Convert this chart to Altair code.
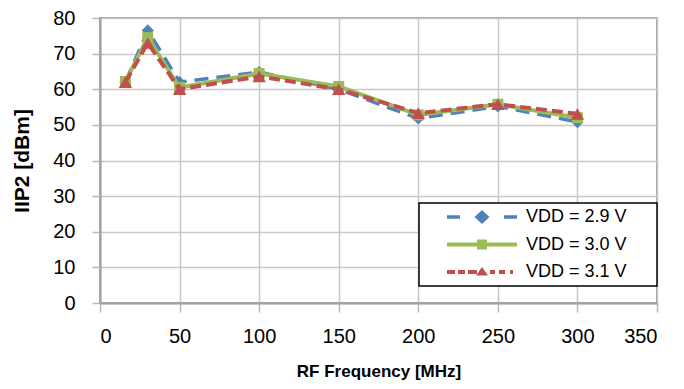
import altair as alt
import pandas as pd

# ---- data ----
freq = [16, 30, 50, 100, 150, 200, 250, 300]
vdd29 = [62.0, 76.5, 62.0, 64.8, 60.0, 51.8, 55.2, 50.8]
vdd30 = [62.2, 74.5, 60.5, 64.4, 60.8, 52.8, 55.8, 52.0]
vdd31 = [62.0, 73.0, 60.0, 63.6, 60.0, 53.3, 55.8, 53.1]
series_names = ["VDD = 2.9 V", "VDD = 3.0 V", "VDD = 3.1 V"]
x_ticks = [0, 50, 100, 150, 200, 250, 300, 350]
y_ticks = [0, 10, 20, 30, 40, 50, 60, 70, 80]

colors = ["#4F81BD", "#9BBB59", "#C0504D"]

rows = []
for name, vals in zip(series_names, [vdd29, vdd30, vdd31]):
    for f, v in zip(freq, vals):
        rows.append({"freq": f, "iip2": v, "series": name})
df = pd.DataFrame(rows)

# ---- legend symbol paths (units: 1 = 5 px, symbol centre at 0) ----
K = 5.0

def rect(x0, x1, hh):
    x0, x1, hh = x0 / K, x1 / K, hh / K
    return f"M{x0:.3f},{-hh:.3f}L{x1:.3f},{-hh:.3f}L{x1:.3f},{hh:.3f}L{x0:.3f},{hh:.3f}Z"

def diamond(cx, hw, hh):
    cx, hw, hh = cx / K, hw / K, hh / K
    return f"M{cx:.3f},{-hh:.3f}L{cx + hw:.3f},0L{cx:.3f},{hh:.3f}L{cx - hw:.3f},0Z"

def square(cx, h):
    return rect(cx - h, cx + h, h)

def triangle(cx, hw, top, base):
    cx, hw, top, base = cx / K, hw / K, top / K, base / K
    return f"M{cx:.3f},{-top:.3f}L{cx + hw:.3f},{base:.3f}L{cx - hw:.3f},{base:.3f}Z"

def far(px):
    u = px / K
    return f"M{u:.3f},0L{u:.3f},0.001Z"

path_blue = rect(-9, 4, 1.75) + rect(48, 61, 1.75) + diamond(26, 7.5, 7) + far(196)
path_green = rect(-9, 61, 2) + square(26, 5) + far(196)
path_red = (rect(-9, -1, 2) + rect(2, 9, 2) + rect(12, 21, 2) + rect(34, 39, 2)
            + rect(43, 49, 2) + rect(54, 57, 2) + triangle(26, 6, 5, 3.5) + far(196))

x_enc = alt.X("freq:Q", scale=alt.Scale(domain=[0, 350], nice=False, zero=False),
              axis=alt.Axis(values=x_ticks, title="RF Frequency [MHz]", tickSize=9,
                            labelPadding=14, titlePadding=17,
                            titleFont="Liberation Sans", titleFontSize=17))
y_enc = alt.Y("iip2:Q", scale=alt.Scale(domain=[0, 80], nice=False),
              axis=alt.Axis(values=y_ticks, title="IIP2 [dBm]", tickSize=8,
                            labelPadding=17, titlePadding=20,
                            titleFont="Liberation Sans", titleFontSize=21))

base = alt.Chart(df)

def series_layers(name, color, shape, size, dash, width):
    src = base.transform_filter(alt.datum.series == name)
    line_kw = dict(color=color, strokeWidth=width, strokeCap="butt", strokeJoin="round")
    if dash:
        line_kw["strokeDash"] = dash
    line = src.mark_line(**line_kw).encode(x=x_enc, y=y_enc)
    pts = src.mark_point(filled=True, shape=shape, size=size, color=color,
                         opacity=1, strokeWidth=0).encode(x=x_enc, y=y_enc)
    return [line, pts]

layers = []
layers += series_layers(series_names[0], colors[0], "diamond", 150, [14, 8], 3.5)
layers += series_layers(series_names[1], colors[1], "square", 120, None, 4)
layers += series_layers(series_names[2], colors[2], "triangle-up", 180, [11, 5], 4)

legend = alt.Legend(
    title=None, orient="none", legendX=319, legendY=185, padding=5,
    rowPadding=9.5, symbolSize=100, symbolStrokeWidth=0, symbolOffset=23,
    labelOffset=61, labelFontSize=18, labelFont="Liberation Sans", labelColor="black",
    labelLimit=400, symbolOpacity=1, strokeColor="black", fillColor="white",
)
legend_layer = base.mark_point(filled=True, opacity=0).encode(
    x=x_enc, y=y_enc,
    color=alt.Color("series:N", scale=alt.Scale(domain=series_names, range=colors), legend=legend),
    shape=alt.Shape("series:N", scale=alt.Scale(domain=series_names,
                                                range=[path_blue, path_green, path_red]),
                    legend=legend),
)
layers.append(legend_layer)

chart = alt.layer(*layers).properties(
    width=557, height=285,
    autosize=alt.AutoSizeParams(type="none"),
    padding={"left": 92, "top": 10, "right": 19, "bottom": 78},
).configure_view(
    stroke="#a0a0a0", strokeWidth=2,
).configure_axis(
    labelFont="Liberation Sans", labelFontSize=20, labelColor="black",
    titleColor="black", titleFontWeight="bold",
    gridColor="#c8c8c8", gridWidth=1.5,
    domainColor="#a0a0a0", domainWidth=2,
    tickColor="#b8b8b8", tickWidth=1.5,
).configure_legend(strokeWidth=1.5)

chart.save("out.html", embed_options={"renderer": "svg", "actions": False})
